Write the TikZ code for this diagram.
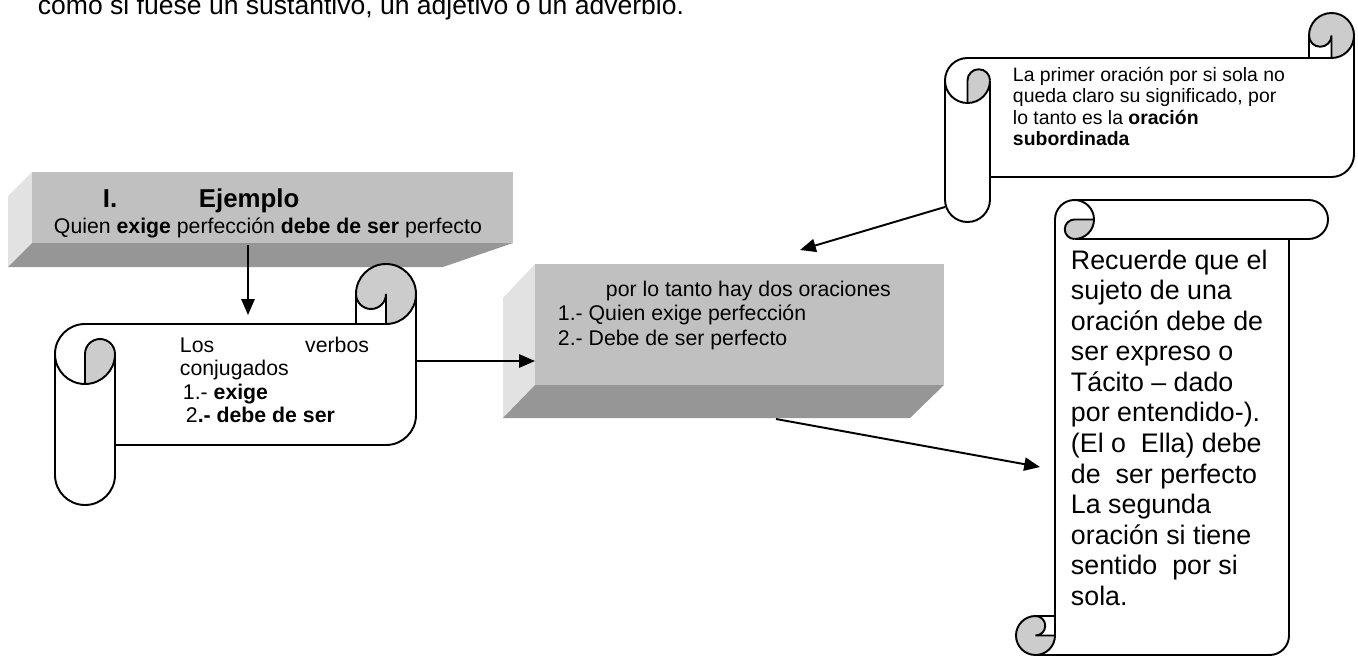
\documentclass[tikz,border=0pt]{standalone}
\usepackage{fontspec}
\setmainfont{Liberation Sans}
\usetikzlibrary{arrows.meta}
\newlength\pxu \setlength\pxu{0.2mm}
\definecolor{cara}{HTML}{C0C0C0}
\definecolor{lado}{HTML}{E2E2E2}
\definecolor{base}{HTML}{969696}
\definecolor{rollo}{HTML}{CCCCCC}
% pergamino horizontal: izquierda, arriba, derecha, abajo, rollo
\newcommand\pergamino[5]{%
 \pgfmathsetmacro\sgH{#5/2}\pgfmathsetmacro\sgQ{#5/4}%
 \pgfmathsetmacro\sgYa{#2+#5}\pgfmathsetmacro\sgYb{#2+1.5*#5}\pgfmathsetmacro\sgYc{#2+2*#5}%
 \pgfmathsetmacro\sgYd{#4-#5}\pgfmathsetmacro\sgYe{#4-#5/2}\pgfmathsetmacro\sgYf{#4-1.5*#5}%
 \pgfmathsetmacro\sgYt{#2+#5/2}%
 \pgfmathsetmacro\sgXa{#3-#5}\pgfmathsetmacro\sgXb{#3-#5/2}%
 \pgfmathsetmacro\sgXc{#1+#5/2}\pgfmathsetmacro\sgXd{#1+#5}%
 \fill[white] (#1,\sgYb) arc[start angle=180,end angle=270,radius=\sgH] -- (\sgXa,\sgYa) -- (\sgXa,\sgYt) arc[start angle=180,end angle=360,radius=\sgH] -- (#3,\sgYf) arc[start angle=0,end angle=90,radius=\sgH] -- (\sgXd,\sgYd) -- (\sgXd,\sgYe) arc[start angle=0,end angle=180,radius=\sgH] -- cycle; %fondo
 \fill[rollo] (\sgXb,\sgYt) circle[radius=\sgH]; %rollo de arriba
 \fill[white] (\sgXa,\sgYt) arc[start angle=180,end angle=0,radius=\sgQ] -- (\sgXb,\sgYa) -- (\sgXa,\sgYa) -- cycle;
 \fill[rollo] (\sgXc,\sgYc) -- (\sgXc,\sgYb) arc[start angle=180,end angle=360,radius=\sgQ] arc[start angle=0,end angle=90,radius=\sgH] -- cycle; %rollo izquierdo
 \draw (#1,\sgYb) arc[start angle=180,end angle=270,radius=\sgH] -- (\sgXa,\sgYa) -- (\sgXa,\sgYt) arc[start angle=180,end angle=360,radius=\sgH] -- (#3,\sgYf) arc[start angle=0,end angle=90,radius=\sgH] -- (\sgXd,\sgYd) -- (\sgXd,\sgYe) arc[start angle=0,end angle=180,radius=\sgH] -- cycle; %contorno
 \draw (#3,\sgYt) arc[start angle=0,end angle=90,radius=\sgH] -- (\sgXa,\sgYa);
 \draw (\sgXb,\sgYa) -- (\sgXb,\sgYt) arc[start angle=0,end angle=180,radius=\sgQ];
 \draw (\sgXd,\sgYb) arc[start angle=0,end angle=180,radius=\sgH];
 \draw (\sgXc,\sgYc) -- (\sgXc,\sgYb) arc[start angle=180,end angle=360,radius=\sgQ];
 \draw (\sgXd,\sgYb) -- (\sgXd,\sgYd);
}
\begin{document}
\begin{tikzpicture}[x=0.2mm,y=-0.2mm,line width=1.1pt,
  flecha/.style={-{Triangle[length=9pt,width=7.5pt]}},
  texto/.style={anchor=base west,inner sep=0pt},
  doce/.style={font=\fontsize{12.1}{13.6}\selectfont}]
\useasboundingbox (0,0) rectangle (1358,656);
\clip (0,0) rectangle (1358,656);
\node[texto,font=\fontsize{15.1}{17}\selectfont] (intro) at (37,14) {como si fuese un sustantivo, un adjetivo o un adverbio.};
% caja Ejemplo
\fill[lado] (32,172) -- (8,196) -- (8,267) -- (32,243) -- cycle; %lado izquierdo
\fill[base] (32,243) -- (513,243) -- (443,267) -- (8,267) -- cycle; %lado de abajo
\fill[cara] (32,172) rectangle (513,243); %cara
\node[texto,font=\fontsize{14.7}{17}\selectfont\bfseries] (num) at (102,207) {I.};
\node[texto,font=\fontsize{14.7}{17}\selectfont\bfseries] (titulo) at (198,207) {Ejemplo};
\node[texto,doce] (frase) at (53,233) {Quien \textbf{exige} perfección \textbf{debe de ser} perfecto};
% caja del medio
\fill[lado] (535,264) -- (503,298) -- (503,418) -- (535,385) -- cycle;
\fill[base] (535,385) -- (944,385) -- (910,418) -- (503,418) -- cycle;
\fill[cara] (535,264) rectangle (944,385);
\node[texto,font=\fontsize{12.1}{14.2}\selectfont] (dos) at (557,296) {\parbox[t]{380\pxu}{\hspace*{48\pxu}por lo tanto hay dos oraciones\\1.- Quien exige perfección\\2.- Debe de ser perfecto}};
% pergaminos
\pergamino{55}{264}{416}{505}{60} %verbos
\pergamino{945}{13}{1354}{222}{45} %subordinada
\begin{scope}[cm={0,-1,-1,0,(0,0)}]
\pergamino{200}{1016}{655}{1328}{39} %recuerde
\end{scope}
\node[texto,font=\fontsize{12.1}{13.4}\selectfont] (verbos) at (179,352) {\parbox[t]{189\pxu}{Los\hfill verbos\\conjugados\\\hspace*{3\pxu}1.- \textbf{exige}\\\hspace*{6\pxu}2\textbf{.- debe de ser}}};
\node[texto,font=\fontsize{11.05}{12.3}\selectfont] (sub) at (1012,81) {\parbox[t]{320\pxu}{La primer oración por si sola no\\queda claro su significado, por\\lo tanto es la \textbf{oración}\\\textbf{subordinada}}};
\node[texto,font=\fontsize{15.25}{17.4}\selectfont] (recuerde) at (1070,269) {\parbox[t]{215\pxu}{Recuerde que el\\sujeto de una\\oración debe de\\ser expreso o\\Tácito – dado\\por entendido-).\\(El o\ \ Ella) debe\\de\ \ ser perfecto\\La segunda\\oración si tiene\\sentido\ \ por si\\sola.}};
% flechas
\coordinate (ejA) at (248,245); \coordinate (ejB) at (248,315);
\coordinate (vbA) at (416,361); \coordinate (vbB) at (535,361);
\coordinate (subA) at (945,207); \coordinate (subB) at (800,250);
\coordinate (dosA) at (776,419); \coordinate (dosB) at (1040,467);
\draw[flecha] (ejA) -- (ejB);
\draw[flecha] (vbA) -- (vbB);
\draw[flecha] (subA) -- (subB);
\draw[flecha] (dosA) -- (dosB);
\end{tikzpicture}
\end{document}
